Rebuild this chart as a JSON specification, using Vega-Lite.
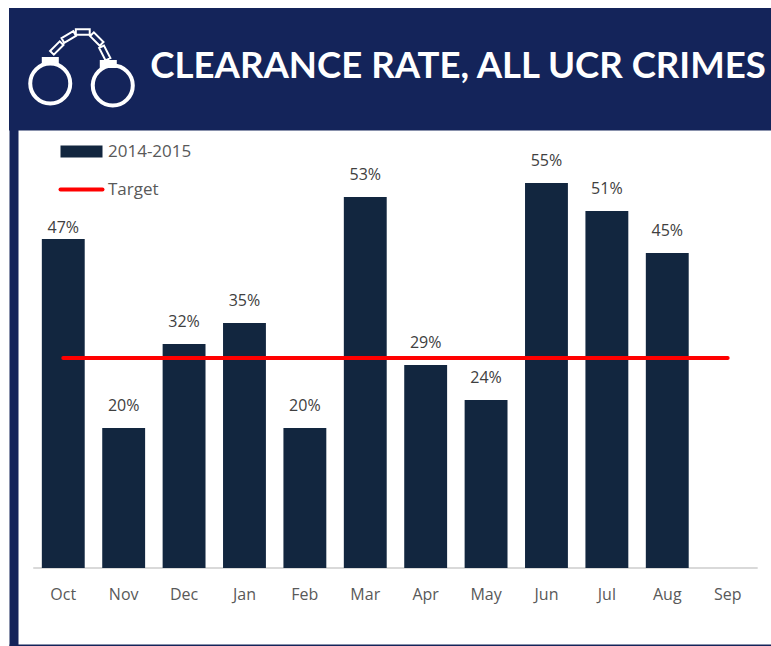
{
"$schema":"https://vega.github.io/schema/vega-lite/v6.json",
"width":762,"height":638,
"autosize":{"type":"none"},
"padding":{"left":9,"top":8,"right":0,"bottom":0},
"background":"#ffffff",
"view":{"stroke":null},
"datasets":{
"months":[
{"month":"Oct","rate":0.47,"target":0.3},
{"month":"Nov","rate":0.20,"target":0.3},
{"month":"Dec","rate":0.32,"target":0.3},
{"month":"Jan","rate":0.35,"target":0.3},
{"month":"Feb","rate":0.20,"target":0.3},
{"month":"Mar","rate":0.53,"target":0.3},
{"month":"Apr","rate":0.29,"target":0.3},
{"month":"May","rate":0.24,"target":0.3},
{"month":"Jun","rate":0.55,"target":0.3},
{"month":"Jul","rate":0.51,"target":0.3},
{"month":"Aug","rate":0.45,"target":0.3},
{"month":"Sep","rate":null,"target":0.3}
]},
"data":{"name":"months"},
"encoding":{
"x":{"field":"month","type":"nominal","sort":null,
"scale":{"domain":["Oct","Nov","Dec","Jan","Feb","Mar","Apr","May","Jun","Jul","Aug","Sep"],"paddingInner":0.29,"paddingOuter":0.453,"align":0.6},
"axis":{"title":null,"ticks":false,"labelAngle":0,"labelPadding":-59,"labelFontSize":16,"labelFont":"Open Sans","labelColor":"#595959","domainColor":"#14245a","domainWidth":2,"offset":-1,"grid":false}},
"y":{"type":"quantitative","scale":{"domain":[-0.11143,0.8],"nice":false,"zero":false},
"axis":{"title":null,"labels":false,"ticks":false,"grid":false,"domainColor":"#14245a","domainWidth":9,"offset":-4.5}}
},
"layer":[
{"data":{"values":[{"top":0.8,"bottom":0.625}]},
"mark":{"type":"rect","color":"#14245a"},
"encoding":{"x":null,"y":{"field":"top","type":"quantitative"},"y2":{"field":"bottom"}}},
{"data":{"values":[{"from":"Oct","to":"Sep","level":0}]},
"mark":{"type":"rule","color":"#d9d9d9","strokeWidth":2},
"encoding":{"x":{"field":"from","type":"nominal","bandPosition":-0.2},"x2":{"field":"to","bandPosition":1.2},"y":{"field":"level","type":"quantitative"}}},
{"mark":{"type":"bar"},
"encoding":{"y":{"field":"rate","type":"quantitative"},"y2":{"datum":0},
"color":{"datum":"2014-2015","type":"nominal","scale":{"domain":["2014-2015","Target"],"range":["#12263f","#ff0000"]},
"legend":{"title":null,"orient":"none","legendX":64,"legendY":135,"symbolType":"stroke","symbolSize":1764,"rowPadding":4,"labelFontSize":17,"labelFont":"Open Sans","labelColor":"#595959","labelOffset":18,"symbolOpacity":1,
"encode":{"symbols":{"update":{"strokeWidth":{"signal":"datum.value==='Target'?4:12"},"strokeCap":{"signal":"datum.value==='Target'?'round':'butt'"}}}}}}}},
{"mark":{"type":"line","strokeWidth":4,"strokeCap":"round"},
"encoding":{"y":{"field":"target","type":"quantitative"},"color":{"datum":"Target","type":"nominal"}}},
{"transform":[{"filter":"datum.rate!=null && datum.month!=='Oct'"}],
"mark":{"type":"text","dy":-22,"fontSize":16,"font":"Open Sans","color":"#404040"},
"encoding":{"y":{"field":"rate","type":"quantitative"},"text":{"field":"rate","type":"quantitative","format":".0%"}}},
{"transform":[{"filter":"datum.month==='Oct'"}],
"mark":{"type":"text","dy":-11,"fontSize":16,"font":"Open Sans","color":"#404040"},
"encoding":{"y":{"field":"rate","type":"quantitative"},"text":{"field":"rate","type":"quantitative","format":".0%"}}},
{"data":{"values":[{"month":"Oct","level":0.716,"heading":"CLEARANCE RATE, ALL UCR CRIMES"}]},
"mark":{"type":"text","align":"left","dx":87,"fontSize":36.6,"font":"Lato","fontWeight":"bold","color":"#ffffff"},
"encoding":{"y":{"field":"level","type":"quantitative"},"text":{"field":"heading"}}},
{"data":{"values":[{"month":"Oct","level":0.7157}]},
"mark":{"type":"point","xOffset":18,"size":11449,"filled":false,"opacity":1,"stroke":"#ffffff","strokeWidth":4,"shape":"M-0.954,0.308A.374,.374 0 1 1 -0.206,.308A.374,.374 0 1 1 -0.954,.308ZM.215,.346A.374,.374 0 1 1 .963,.346A.374,.374 0 1 1 .215,.346Z"},
"encoding":{"y":{"field":"level","type":"quantitative"}}},
{"data":{"values":[{"month":"Oct","level":0.7157}]},
"mark":{"type":"point","xOffset":18,"size":11449,"filled":false,"opacity":1,"stroke":"#ffffff","strokeWidth":2,"shape":"M-.333,-.41L-.403,-.48L-.583,-.30L-.513,-.23ZM-.099,-.583L-.149,-.669L-.369,-.539L-.319,-.453ZM.158,-.604L.158,-.704L-.102,-.704L-.102,-.604ZM.345,-.398L.415,-.468L.235,-.648L.165,-.578ZM.454,-.123L.544,-.167L.424,-.401L.334,-.357Z"},
"encoding":{"y":{"field":"level","type":"quantitative"}}},
{"data":{"values":[{"month":"Oct","level":0.7157}]},
"mark":{"type":"point","xOffset":18,"size":11449,"filled":true,"opacity":1,"color":"#ffffff","shape":"M-.738,-.187L-.42,-.187L-.42,-.037L-.738,-.037ZM.346,-.131L.664,-.131L.664,.019L.346,.019Z"},
"encoding":{"y":{"field":"level","type":"quantitative"}}}
]
}
